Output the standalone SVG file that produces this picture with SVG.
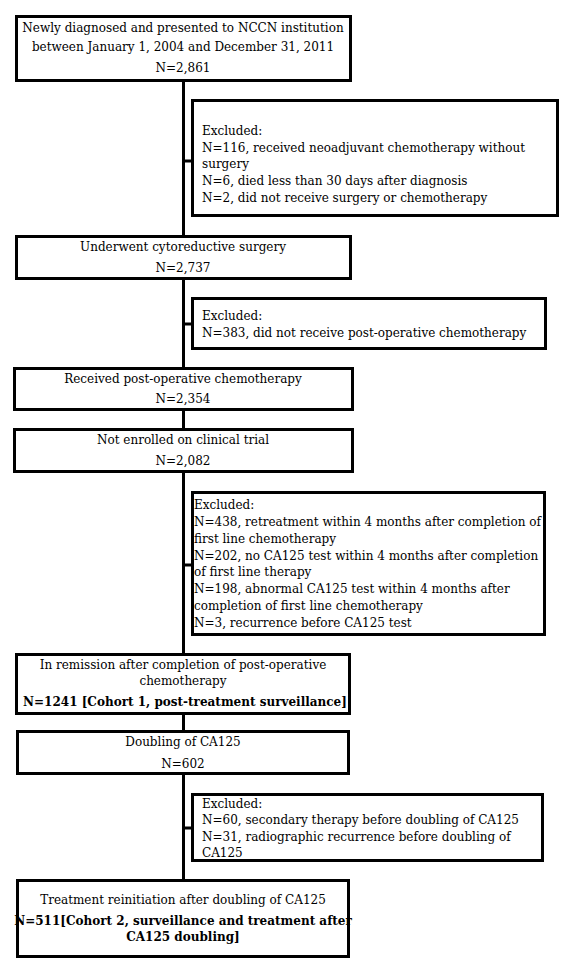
<svg xmlns="http://www.w3.org/2000/svg" width="570" height="975" viewBox="0 0 570 975">
<style>
  .box { fill: #ffffff; stroke: #000000; stroke-width: 3; }
  .conn { stroke: #000000; stroke-width: 3; fill: none; }
  text { font-family: "DejaVu Serif", "Liberation Serif", serif; font-size: 12px; fill: #000000; }
  .c { text-anchor: middle; }
  .b { font-weight: bold; }
</style>
<rect width="570" height="975" fill="#ffffff"/>
<g id="connectors">
  <line class="conn" x1="183.5" y1="81" x2="183.5" y2="880"/>
  <line class="conn" x1="183.5" y1="161" x2="192" y2="161"/>
  <line class="conn" x1="183.5" y1="324" x2="192" y2="324"/>
  <line class="conn" x1="183.5" y1="565" x2="192" y2="565"/>
  <line class="conn" x1="183.5" y1="828" x2="192" y2="828"/>
</g>
<g id="n1">
  <rect class="box" x="16.5" y="16.5" width="334" height="64"/>
  <text class="c" x="183" y="32">Newly diagnosed and presented to NCCN institution</text>
  <text class="c" x="183" y="51">between January 1, 2004 and December 31, 2011</text>
  <text class="c" x="183" y="72">N=2,861</text>
</g>
<g id="ex1">
  <rect class="box" x="192.5" y="100.5" width="365" height="115"/>
  <text x="202" y="135">Excluded:</text>
  <text x="202" y="152">N=116, received neoadjuvant chemotherapy without</text>
  <text x="202" y="168">surgery</text>
  <text x="202" y="185">N=6, died less than 30 days after diagnosis</text>
  <text x="202" y="202">N=2, did not receive surgery or chemotherapy</text>
</g>
<g id="n2">
  <rect class="box" x="16.5" y="236.5" width="334" height="42"/>
  <text class="c" x="183" y="251">Underwent cytoreductive surgery</text>
  <text class="c" x="183" y="272">N=2,737</text>
</g>
<g id="ex2">
  <rect class="box" x="192.5" y="298.5" width="353" height="50"/>
  <text x="202" y="320">Excluded:</text>
  <text x="202" y="337">N=383, did not receive post-operative chemotherapy</text>
</g>
<g id="n3">
  <rect class="box" x="14.5" y="368.5" width="338" height="41"/>
  <text class="c" x="183" y="383">Received post-operative chemotherapy</text>
  <text class="c" x="183" y="403">N=2,354</text>
</g>
<g id="n4">
  <rect class="box" x="14.5" y="429.5" width="338" height="42"/>
  <text class="c" x="183" y="444">Not enrolled on clinical trial</text>
  <text class="c" x="183" y="465">N=2,082</text>
</g>
<g id="ex3">
  <rect class="box" x="192.5" y="492.5" width="352" height="142"/>
  <text x="194" y="509">Excluded:</text>
  <text x="194" y="526">N=438, retreatment within 4 months after completion of</text>
  <text x="194" y="543">first line chemotherapy</text>
  <text x="194" y="560">N=202, no CA125 test within 4 months after completion</text>
  <text x="194" y="576">of first line therapy</text>
  <text x="194" y="593">N=198, abnormal CA125 test within 4 months after</text>
  <text x="194" y="610">completion of first line chemotherapy</text>
  <text x="194" y="627">N=3, recurrence before CA125 test</text>
</g>
<g id="n5">
  <rect class="box" x="16.5" y="654.5" width="333" height="59"/>
  <text class="c" x="183" y="669">In remission after completion of post-operative</text>
  <text class="c" x="183" y="685">chemotherapy</text>
  <text class="c b" x="185" y="706">N=1241 [Cohort 1, post-treatment surveillance]</text>
</g>
<g id="n6">
  <rect class="box" x="17.5" y="731.5" width="331" height="42"/>
  <text class="c" x="183" y="746">Doubling of CA125</text>
  <text class="c" x="183" y="768">N=602</text>
</g>
<g id="ex4">
  <rect class="box" x="192.5" y="794.5" width="350" height="66"/>
  <text x="202" y="808">Excluded:</text>
  <text x="202" y="824">N=60, secondary therapy before doubling of CA125</text>
  <text x="202" y="841">N=31, radiographic recurrence before doubling of</text>
  <text x="202" y="857">CA125</text>
</g>
<g id="n7">
  <rect class="box" x="17.5" y="880.5" width="331" height="76"/>
  <text class="c" x="183" y="904">Treatment reinitiation after doubling of CA125</text>
  <text class="c b" x="183" y="925">N=511[Cohort 2, surveillance and treatment after</text>
  <text class="c b" x="183" y="941">CA125 doubling]</text>
</g>
</svg>
